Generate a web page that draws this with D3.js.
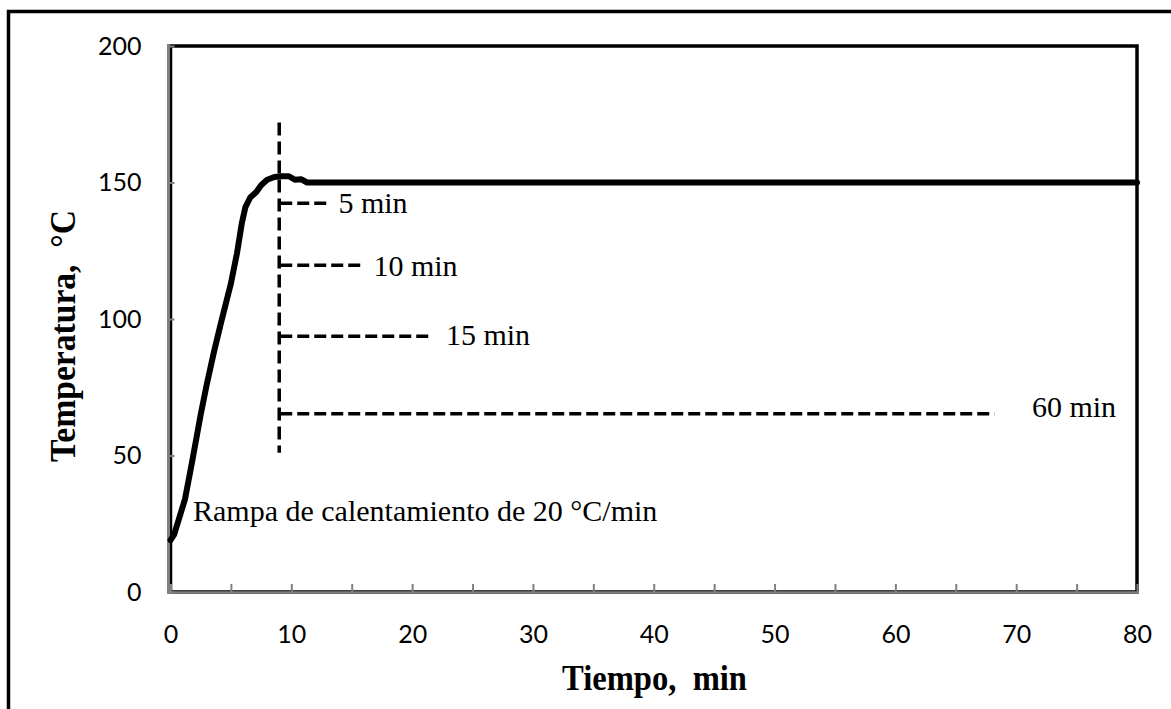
<!DOCTYPE html>
<html>
<head>
<meta charset="utf-8">
<script src="https://cdn.jsdelivr.net/npm/d3@7"></script>
<style>
  body { margin: 0; background: #fff; }
  svg { display: block; }
</style>
</head>
<body>
<svg id="chart" width="1171" height="709"></svg>
<script>
// Heating program: measured temperature (°C) against time (min)
const timeMin = [0, 0.3, 1.2, 1.8, 2.5, 3.0, 3.6, 4.2, 5.0, 5.5, 5.9, 6.2, 6.6, 7.1, 7.5, 8.0, 8.6, 9.2, 9.8, 10.3, 10.8, 11.3, 12, 80];
const tempC   = [19, 21, 34, 48, 65, 76, 88, 99, 113, 124, 135, 141, 144.5, 146.5, 149, 151, 152, 152.3, 152.3, 151, 151.2, 150, 150, 150];

// Axis ticks
const xTickLabels = [0, 10, 20, 30, 40, 50, 60, 70, 80];
const xMinorTicks = [5, 15, 25, 35, 45, 55, 65, 75];
const yTickLabels = [0, 50, 100, 150, 200];

// Isothermal hold markers
const holdStart = 9;                 // min, where the holds begin
const holdMarkerSpan = [51, 172];    // °C, vertical reference line
const holdLabels = ["5 min", "10 min", "15 min", "60 min"];
const holdLevels = [142.4, 119.7, 93.7, 65.3];   // °C
const holdEnds   = [13.2, 16.0, 21.7, 68.2];     // min
const holdLabelAtMin = [13.9, 16.8, 22.8, 71.3];
const holdLabelAtC   = [138.8, 115.8, 90.5, 64.1];

const rampLabel = "Rampa de calentamiento de 20 °C/min";
const rampLabelAt = [1.86, 26];

const svg = d3.select("#chart");
svg.append("rect").attr("width", 1171).attr("height", 709).attr("fill", "#fff");

// outer frame
svg.append("rect")
  .attr("x", 8.5).attr("y", 11.5).attr("width", 1300).attr("height", 900)
  .attr("fill", "none").attr("stroke", "#000").attr("stroke-width", 3.5);

const x = d3.scaleLinear().domain([0, 80]).range([170.5, 1137]);
const y = d3.scaleLinear().domain([0, 200]).range([592, 46]);

// plot area border
svg.append("rect")
  .attr("x", x(0)).attr("y", y(200))
  .attr("width", x(80) - x(0)).attr("height", y(0) - y(200))
  .attr("fill", "none").attr("stroke", "#000").attr("stroke-width", 3.5);

// axis lines
svg.append("line").attr("x1", 168.5).attr("x2", 168.5).attr("y1", 44).attr("y2", 593.5)
  .attr("stroke", "#808080").attr("stroke-width", 3);
svg.append("line").attr("x1", 167).attr("x2", 1139).attr("y1", 592.5).attr("y2", 592.5)
  .attr("stroke", "#808080").attr("stroke-width", 2.5);

const tickFont = "Lato, 'Open Sans', sans-serif";

const xAxis = d3.axisBottom(x)
  .tickValues(xTickLabels.concat(xMinorTicks).sort((a, b) => a - b))
  .tickSizeInner(-8).tickSizeOuter(0).tickPadding(33)
  .tickFormat(d => xTickLabels.includes(d) ? String(d) : "");
const gx = svg.append("g").attr("transform", "translate(0,592)").call(xAxis);
gx.select(".domain").remove();
gx.selectAll(".tick line").attr("stroke", "#808080").attr("stroke-width", 2);
gx.selectAll(".tick text").attr("font-family", tickFont).attr("font-size", 25).attr("fill", "#000");

const yAxis = d3.axisLeft(y)
  .tickValues(yTickLabels)
  .tickSizeInner(-6).tickSizeOuter(0).tickPadding(27);
const gy = svg.append("g").attr("transform", "translate(168.5,0)").call(yAxis);
gy.select(".domain").remove();
gy.selectAll(".tick line").attr("stroke", "#808080").attr("stroke-width", 2);
gy.selectAll(".tick text").attr("font-family", tickFont).attr("font-size", 25).attr("fill", "#000");

// temperature curve
const line = d3.line().x((d, i) => x(timeMin[i])).y(d => y(d));
svg.append("path")
  .datum(tempC)
  .attr("d", line)
  .attr("fill", "none").attr("stroke", "#000").attr("stroke-width", 6)
  .attr("stroke-linejoin", "round").attr("stroke-linecap", "round");

// hold markers
const dash = "12,5";
svg.append("line")
  .attr("x1", x(holdStart)).attr("x2", x(holdStart))
  .attr("y1", y(holdMarkerSpan[1])).attr("y2", y(holdMarkerSpan[0]))
  .attr("stroke", "#000").attr("stroke-width", 3.5).attr("stroke-dasharray", "13,6");

holdLabels.forEach((lab, i) => {
  svg.append("line")
    .attr("x1", x(holdStart) + 1).attr("x2", x(holdEnds[i]))
    .attr("y1", y(holdLevels[i])).attr("y2", y(holdLevels[i]))
    .attr("stroke", "#000").attr("stroke-width", 3.5).attr("stroke-dasharray", dash);
  svg.append("text")
    .attr("x", x(holdLabelAtMin[i])).attr("y", y(holdLabelAtC[i]))
    .attr("font-family", "'Liberation Serif', 'Times New Roman', serif")
    .attr("font-size", 30).attr("fill", "#000")
    .text(lab);
});

svg.append("text")
  .attr("x", x(rampLabelAt[0])).attr("y", y(rampLabelAt[1]))
  .attr("font-family", "'Liberation Serif', 'Times New Roman', serif")
  .attr("font-size", 30).attr("fill", "#000")
  .text(rampLabel);

// axis titles
svg.append("text")
  .attr("x", 654.5).attr("y", 690)
  .attr("text-anchor", "middle")
  .attr("font-family", "'Liberation Serif', 'Times New Roman', serif")
  .attr("font-weight", "bold").attr("font-size", 36).attr("fill", "#000")
  .attr("textLength", 185).attr("lengthAdjust", "spacingAndGlyphs")
  .text("Tiempo,\u00a0 min");

svg.append("text")
  .attr("transform", "translate(75,336) rotate(-90)")
  .attr("text-anchor", "middle")
  .attr("font-family", "'Liberation Serif', 'Times New Roman', serif")
  .attr("font-weight", "bold").attr("font-size", 36).attr("fill", "#000")
  .attr("textLength", 252).attr("lengthAdjust", "spacingAndGlyphs")
  .text("Temperatura,\u00a0 °C");
</script>
</body>
</html>
